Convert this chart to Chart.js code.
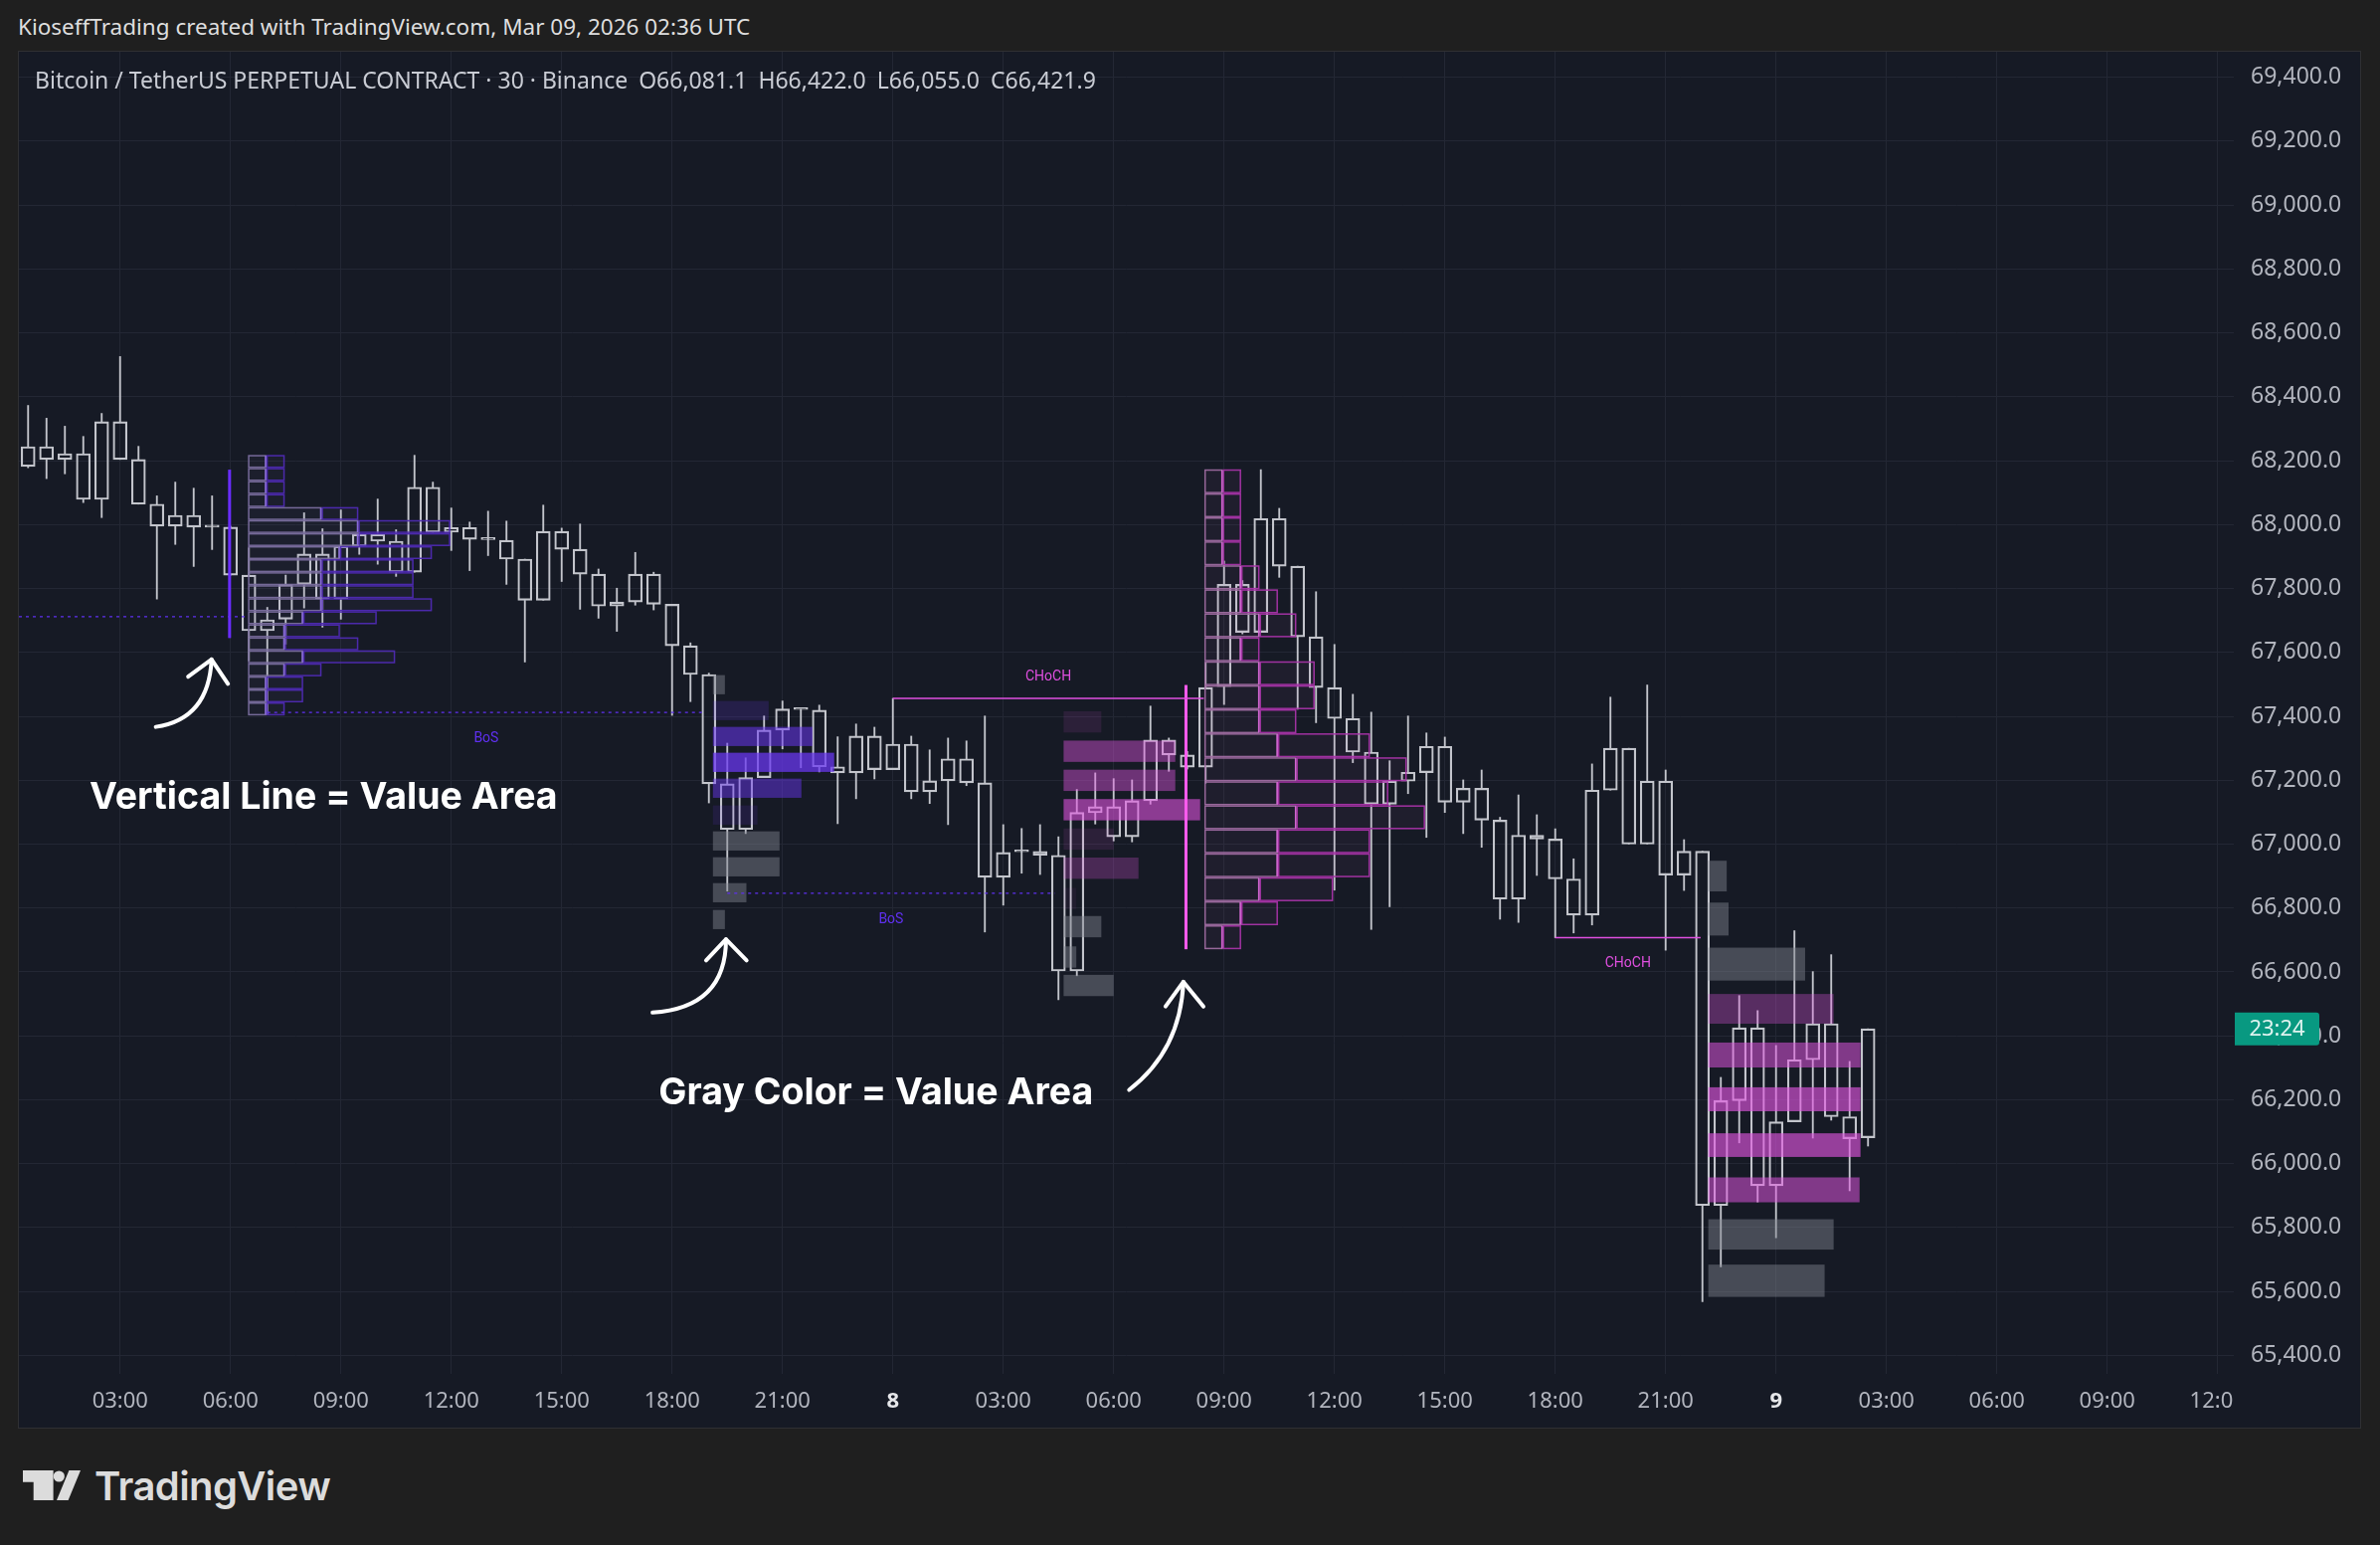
<!DOCTYPE html>
<html>
<head>
<meta charset="utf-8">
<title>BTCUSDT.P 30m</title>
<script src="https://cdn.jsdelivr.net/npm/chart.js@4.4.1/dist/chart.umd.min.js"></script>
<style>
  html, body { margin:0; padding:0; width:2393px; height:1553px; background:#1f1f1f; overflow:hidden; }
  body { position:relative; font-family: "Noto Sans", Roboto, sans-serif; }
  #hdr { position:absolute; left:18px; top:16px; font-size:22.5px; line-height:22px; color:#dedede; white-space:pre; }
  #panel { position:absolute; left:18px; top:51px; width:2354px; height:1383px; border:1px solid #2f3033; background:#161a25; }
  #cv { position:absolute; left:0; top:0; }
  #title { position:absolute; left:16px; top:17px; font-size:23px; line-height:22px; color:#c9ccd4; white-space:pre; pointer-events:none; }
  #title span { margin-left:11px; }
  #logoIcon { position:absolute; left:23px; top:1478px; }
  #logoText { position:absolute; left:95px; top:1474px; font-family: Inter, sans-serif; font-weight:600; font-size:40px; line-height:40px; color:#dcdcdc; letter-spacing:-0.6px; }
</style>
</head>
<body>
<div id="hdr"></div>
<div id="panel"><canvas id="cv" width="2354" height="1383"></canvas><div id="title"></div></div>
<svg id="logoIcon" width="60" height="31" viewBox="0 0 60 31">
  <path d="M0,0 H30.6 V30 H10.7 V11.7 H0 Z" fill="#dcdcdc"/>
  <circle cx="36.3" cy="6" r="5.6" fill="#dcdcdc"/>
  <path d="M46.4,0 H58 L45.6,30 H34 Z" fill="#dcdcdc"/>
</svg>
<div id="logoText">TradingView</div>
<script>
// ---------------- DATA ----------------
const snapHeader = 'KioseffTrading created with TradingView.com, Mar 09, 2026 02:36 UTC';
const symbolTitle = 'Bitcoin / TetherUS PERPETUAL CONTRACT · 30 · Binance';

// 30-minute candles, Mar 7 00:30 UTC -> Mar 9 02:30 UTC
const open  = [68182,68244,68204,68222,68079,68322,68204,68064,67995,68029,67993,67992,67842,67668,67704,67813,67908,67768,67932,67969,
               67948,67851,68117,67976,67991,67954,67951,67892,67763,67979,67923,67845,67745,67758,67845,67751,67621,67531,67189,67046,
               67208,67357,67422,67419,67242,67223,67338,67233,67313,67164,67198,67267,67192,66896,66977,66977,66965,66603,67098,67117,
               67023,67136,67326,67279,67241,67493,67813,67663,68019,67870,67649,67490,67393,67288,67125,67197,67224,67306,67131,67175,
               67075,66828,67028,67016,66891,66778,67169,67300,67000,67197,66903,66978,65869,66197,66425,65931,66131,66325,66438,66147,66081.1];
const high  = [68373,68333,68308,68276,68348,68526,68245,68090,68133,68114,68090,67995,67927,67741,67842,68037,67987,68046,67975,68080,
               67984,68217,68133,68052,68008,68042,68011,67892,68061,67989,68002,67861,67801,67913,67851,67751,67630,67535,67316,67270,
               67401,67448,67422,67435,67336,67376,67366,67456,67338,67295,67332,67323,67401,67061,67049,67061,67023,67171,67223,67205,
               67201,67432,67332,67290,67567,67886,67825,68172,68051,67870,67790,67625,67469,67413,67261,67401,67348,67335,67201,67232,
               67084,67154,67092,67048,66954,67251,67460,67300,67498,67232,67014,66978,66270,66526,66479,66370,66729,66601,66654,66320,66422.0];
const low   = [68178,68144,68159,68069,68022,68204,68064,67767,67938,67869,67922,67842,67574,67405,67626,67739,67679,67704,67907,67876,
               67838,67851,67976,67919,67856,67903,67813,67570,67763,67822,67735,67707,67666,67748,67733,67403,67446,67129,66853,67033,
               67208,67298,67239,67226,67064,67142,67204,67233,67142,67127,67061,67183,66725,66809,66909,66905,66513,66588,67063,67010,
               67007,67125,67228,67235,67191,67437,67658,67663,67835,67422,67380,66856,67255,66733,66804,67158,67021,67099,67033,66990,
               66765,66755,66902,66707,66722,66747,67169,67000,67000,66668,66855,65568,65677,66065,65880,65768,66131,66080,66136,65915,66055.0];
const close = [68244,68204,68222,68079,68322,68204,68064,67995,68029,67992,67992,67842,67668,67702,67813,67908,67768,67932,67969,67948,
               67851,68117,67976,67991,67954,67953,67892,67763,67979,67923,67845,67745,67758,67845,67751,67621,67531,67189,67046,67208,
               67357,67423,67421,67242,67223,67338,67233,67313,67164,67198,67267,67192,66896,66974,66976,66965,66603,67099,67117,67023,
               67136,67326,67279,67241,67490,67813,67663,68019,67870,67649,67490,67393,67288,67125,67197,67225,67306,67131,67175,67075,
               66828,67028,67016,66891,66778,67169,67300,67000,67197,66903,66978,65869,66197,66425,65931,66131,66325,66438,66147,66078,66421.9];

const xTickIdx = [5,11,17,23,29,35,41,47,53,59,65,71,77,83,89,95,101,107,113,119];
const xTickLbl = ['03:00','06:00','09:00','12:00','15:00','18:00','21:00','8','03:00','06:00','09:00','12:00','15:00','18:00','21:00','9','03:00','06:00','09:00','12:00'];
const yTicks = [65400,65600,65800,66000,66200,66400,66600,66800,67000,67200,67400,67600,67800,68000,68200,68400,68600,68800,69000,69200,69400];
const xRange = [-0.5, 119.88];
const yRange = [65342, 69480];
const countdown = '23:24';

// Split (outlined) volume profiles: rows from top price, widths in candle units
const profAStart = 11.95, profATop = 68218, profARow = 40.76;
const profALeft  = [1,1,1,1,4,6,6,5,4,4,4,4,3,2,2,3,2,1,1,1];
const profATotal = [2,2,2,2,6,11,11,10,9,9,9,10,7,5,6,8,4,3,3,2];
const profAVA = [67645, 68172];

const profDStart = 63.93, profDTop = 68173, profDRow = 75.1;
const profDLeft  = [1,1,1,1,2,2,3,2,3,3,3,4,5,4,5,4,4,3,2,1];
const profDTotal = [2,2,2,2,3,4,5,3,6,6,5,9,11,10,12,9,9,7,4,2];
const profDVA = [66671, 67498];

// Filled profiles: row top price, row height, width (candle units), intensity, value-area (gray) flag
const profBStart = 37.22, profBRow = 60;
const profBTop   = [67529,67448,67367,67286,67205,67121,67040,66959,66878,66794];
const profBWidth = [0.65,3.03,5.41,6.59,4.81,2.42,3.62,3.62,1.82,0.65];
const profBLevel = [0,0.18,0.55,0.74,0.48,0.13,0,0,0,0];
const profBGray  = [1,0,0,0,0,0,1,1,1,1];

const profCStart = 56.28, profCRow = 66.6;
const profCTop   = [67416,67324,67233,67141,67049,66958,66863,66775,66680,66591];
const profCWidth = [2.05,6.07,6.07,7.42,2.72,4.07,0.69,2.05,0.69,2.72];
const profCLevel = [0.11,0.43,0.43,0.58,0.11,0.26,0.06,0,0,0];
const profCGray  = [0,0,0,0,0,0,0,1,1,1];

const profEStart = 91.32;
const profETop   = [66948,66817,66676,66531,66379,66239,66095,65957,65826,65684];
const profEBot   = [66852,66714,66573,66438,66301,66164,66021,65879,65731,65583];
const profEWidth = [1.0,1.1,5.26,6.81,8.27,8.27,8.27,8.22,6.81,6.32];
const profELevel = [0,0,0,0.33,0.53,0.63,0.63,0.53,0,0];
const profEGray  = [1,1,1,0,0,0,0,0,1,1];

// Structure lines (price, from index, to index, label, label side)
const bosLines   = [[67712,-0.5,11.82,''],[67412,13,36.8,'BoS'],[66846,38,55.8,'BoS']];
const chochLines = [[67456,47,63.9,'CHoCH','above'],[66707,83,90.9,'CHoCH','below']];

// Annotations (data coordinates: [index, price])
const noteText = ['Vertical Line = Value Area', 'Gray Color = Value Area'];
const notePos  = [[3.34,67109],[34.27,66186]];
const arrowFrom = [[6.94,67367],[33.94,66473],[59.84,66231]];
const arrowCtrl = [[9.82,67391],[37.93,66488],[62.63,66354]];
const arrowTip  = [[9.97,67578],[37.93,66702],[62.79,66569]];
const arrowArmA = [[8.70,67524],[36.85,66636],[61.82,66492]];
const arrowArmB = [[10.86,67502],[39.05,66636],[63.88,66492]];

// ---------------- PAGE TEXT ----------------
const fmt1 = v => v.toLocaleString('en-US',{minimumFractionDigits:1,maximumFractionDigits:1});
const L = close.length - 1;
document.getElementById('hdr').textContent = snapHeader;
const t = document.getElementById('title');
t.appendChild(document.createTextNode(symbolTitle));
[['O',open[L]],['H',high[L]],['L',low[L]],['C',close[L]]].forEach(([k,v]) => {
  const s = document.createElement('span'); s.textContent = k + fmt1(v); t.appendChild(s);
});

// ---------------- CHART ----------------
const candleColor = '#c3c5cc';
const gridColor = '#232734';
const axisFont = '"Noto Sans", Roboto, sans-serif';
const idx = open.map((_, i) => i);
const bodies = idx.map(i => ({x:i, y:[open[i], close[i]]}));
const wickHi = idx.map(i => ({x:i, y:[Math.max(open[i],close[i]), high[i]]}));
const wickLo = idx.map(i => ({x:i, y:[low[i], Math.min(open[i],close[i])]}));

function drawSplit(ctx, X, Y, start, top, rowH, left, total, st) {
  ctx.lineWidth = 1.5;
  for (let i = 0; i < left.length; i++) {
    const yT = Y(top - i*rowH), yB = Y(top - (i+1)*rowH);
    const x0 = X(start), x1 = X(start + left[i]), x2 = X(start + total[i]);
    ctx.fillStyle = st.fill; ctx.fillRect(x0, yT, x2-x0, yB-yT);
    ctx.strokeStyle = st.dark; ctx.strokeRect(x1+0.75, yT+0.75, x2-x1-1.5, yB-yT-1.5);
    ctx.strokeStyle = st.light; ctx.strokeRect(x0+0.75, yT+0.75, x1-x0-1.5, yB-yT-1.5);
    ctx.strokeStyle = st.edge;
    ctx.beginPath(); ctx.moveTo(x1-0.75, yT+0.75); ctx.lineTo(x1-0.75, yB-0.75); ctx.stroke();
  }
}
function drawFilled(ctx, X, Y, start, tops, bots, widths, levels, gray, base) {
  for (let i = 0; i < tops.length; i++) {
    const yT = Y(tops[i]), yB = Y(bots[i]);
    const x0 = X(start), x1 = X(start + widths[i]);
    ctx.fillStyle = gray[i] ? 'rgba(128,131,143,0.47)' : `rgba(${base},${levels[i]})`;
    ctx.fillRect(x0, yT, x1-x0, yB-yT);
  }
}

const overlay = {
  id: 'overlay',
  afterDatasetsDraw(chart) {
    const {ctx, chartArea: a} = chart;
    const xs = chart.scales.x, ys = chart.scales.y;
    const X = v => xs.getPixelForValue(v), Y = v => ys.getPixelForValue(v);
    ctx.save();
    ctx.beginPath(); ctx.rect(a.left, a.top, a.right-a.left, a.bottom-a.top); ctx.clip();

    drawSplit(ctx, X, Y, profAStart, profATop, profARow, profALeft, profATotal,
      {fill:'rgba(130,115,190,0.06)', light:'rgba(122,110,158,0.95)', dark:'rgba(78,42,178,0.95)', edge:'rgba(138,104,226,0.9)'});
    drawSplit(ctx, X, Y, profDStart, profDTop, profDRow, profDLeft, profDTotal,
      {fill:'rgba(190,110,190,0.06)', light:'rgba(158,108,160,0.95)', dark:'rgba(168,52,168,0.95)', edge:'rgba(215,100,215,0.9)'});

    drawFilled(ctx, X, Y, profBStart, profBTop, profBTop.map(v => v - profBRow), profBWidth, profBLevel, profBGray, '105,55,240');
    drawFilled(ctx, X, Y, profCStart, profCTop, profCTop.map(v => v - profCRow), profCWidth, profCLevel, profCGray, '225,85,225');
    drawFilled(ctx, X, Y, profEStart, profETop, profEBot, profEWidth, profELevel, profEGray, '225,85,225');

    // value-area vertical lines
    ctx.fillStyle = '#6a2cff';
    ctx.fillRect(X(profAStart-1)-1.5, Y(profAVA[1]), 3, Y(profAVA[0]) - Y(profAVA[1]));
    ctx.fillStyle = '#ff5cf0';
    ctx.fillRect(X(profDStart-1)-1.5, Y(profDVA[1]), 3, Y(profDVA[0]) - Y(profDVA[1]));

    // BoS dotted lines
    ctx.strokeStyle = '#5f30f0'; ctx.lineWidth = 1.3; ctx.setLineDash([3,4]);
    bosLines.forEach(([p,f,to]) => { ctx.beginPath(); ctx.moveTo(X(f), Y(p)); ctx.lineTo(X(to), Y(p)); ctx.stroke(); });
    ctx.setLineDash([]);
    ctx.font = '14px Roboto'; ctx.textAlign = 'center'; ctx.textBaseline = 'alphabetic';
    ctx.fillStyle = '#5f30f0';
    bosLines.forEach(([p,f,to,lab]) => { if (lab) ctx.fillText(lab, X((f+to)/2), Y(p) + 30); });

    // CHoCH lines
    ctx.strokeStyle = '#e04fe0'; ctx.lineWidth = 1.5;
    chochLines.forEach(([p,f,to]) => { ctx.beginPath(); ctx.moveTo(X(f), Y(p)); ctx.lineTo(X(to), Y(p)); ctx.stroke(); });
    ctx.fillStyle = '#e04fe0';
    chochLines.forEach(([p,f,to,lab,side]) => ctx.fillText(lab, X((f+to)/2), Y(p) + (side === 'above' ? -18 : 29)));

    // arrows
    ctx.strokeStyle = '#ffffff'; ctx.lineWidth = 4; ctx.lineCap = 'round'; ctx.lineJoin = 'round';
    for (let i = 0; i < arrowFrom.length; i++) {
      ctx.beginPath();
      ctx.moveTo(X(arrowFrom[i][0]), Y(arrowFrom[i][1]));
      ctx.quadraticCurveTo(X(arrowCtrl[i][0]), Y(arrowCtrl[i][1]), X(arrowTip[i][0]), Y(arrowTip[i][1]));
      ctx.stroke();
      ctx.beginPath();
      ctx.moveTo(X(arrowArmA[i][0]), Y(arrowArmA[i][1]));
      ctx.lineTo(X(arrowTip[i][0]), Y(arrowTip[i][1]));
      ctx.lineTo(X(arrowArmB[i][0]), Y(arrowArmB[i][1]));
      ctx.stroke();
    }
    // notes
    ctx.font = '700 37.5px Inter'; ctx.textAlign = 'left'; ctx.fillStyle = '#ffffff';
    noteText.forEach((s, i) => ctx.fillText(s, X(notePos[i][0]), Y(notePos[i][1])));
    ctx.restore();
  },
  afterDraw(chart) {
    const {ctx, chartArea: a} = chart;
    const ys = chart.scales.y;
    ctx.save();
    ctx.fillStyle = '#161a25';
    ctx.fillRect(a.right, a.bottom, chart.width - a.right, chart.height - a.bottom);
    const yc = ys.getPixelForValue(close[L]);
    ctx.fillStyle = '#089981';
    ctx.beginPath();
    ctx.roundRect(a.right + 1, yc - 16.5, 85, 33, [0,3,3,0]);
    ctx.fill();
    ctx.fillStyle = '#dff3ef'; ctx.font = '22px ' + axisFont; ctx.textAlign = 'center'; ctx.textBaseline = 'middle';
    ctx.fillText(countdown, a.right + 1 + 42.5, yc + 1);
    ctx.restore();
  }
};

const zeroPad = s => { s.paddingTop = 0; s.paddingBottom = 0; s.paddingLeft = 0; s.paddingRight = 0; };

new Chart(document.getElementById('cv'), {
  type: 'bar',
  data: {
    datasets: [
      { data: wickHi, barThickness: 1.2, backgroundColor: candleColor, borderWidth: 0, grouped: false },
      { data: wickLo, barThickness: 1.2, backgroundColor: candleColor, borderWidth: 0, grouped: false },
      { data: bodies, barThickness: 14, backgroundColor: 'rgba(0,0,0,0)', borderColor: candleColor, borderWidth: 1.5,
        borderSkipped: false, minBarLength: 2, grouped: false }
    ]
  },
  options: {
    responsive: false, animation: false, events: [],
    layout: { padding: 0, autoPadding: false },
    plugins: { legend: { display: false }, tooltip: { enabled: false } },
    scales: {
      x: {
        type: 'linear', min: xRange[0], max: xRange[1], offset: false,
        afterBuildTicks: s => { s.ticks = xTickIdx.map(v => ({value: v})); },
        afterFit: s => { s.height = 54; zeroPad(s); },
        grid: { color: gridColor, drawTicks: false, offset: false },
        border: { display: false },
        ticks: {
          autoSkip: false, maxRotation: 0, padding: 15,
          callback: (v, i) => xTickLbl[i],
          color: c => (xTickLbl[c.index] || '').length === 1 ? '#e6e7ea' : '#b2b5be',
          font: c => ({ family: axisFont, size: 22, weight: (xTickLbl[c.index] || '').length === 1 ? 'bold' : 'normal' })
        }
      },
      y: {
        position: 'right', min: yRange[0], max: yRange[1],
        afterBuildTicks: s => { s.ticks = yTicks.map(v => ({value: v})); },
        afterFit: s => { s.width = 127; zeroPad(s); },
        grid: { color: gridColor, drawTicks: false },
        border: { display: false },
        ticks: { padding: 17, color: '#b2b5be', font: { family: axisFont, size: 23 }, callback: v => fmt1(v) }
      }
    }
  },
  plugins: [overlay]
});
</script>
</body>
</html>
